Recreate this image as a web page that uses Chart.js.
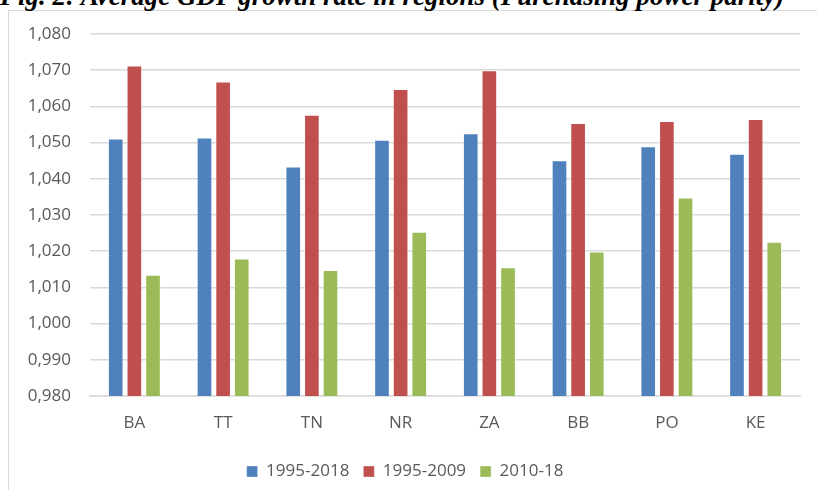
<!DOCTYPE html>
<html>
<head>
<meta charset="utf-8">
<script src="https://cdn.jsdelivr.net/npm/chart.js@4/dist/chart.umd.min.js"></script>
<style>
  html, body { margin: 0; padding: 0; background: #fff; overflow: hidden; }
  #frame { position: absolute; left: 8px; top: 10px; width: 900px; height: 600px; border: 1px solid #d9d9d9; }
  #title { position: absolute; left: 0; top: -17px; font: bold italic 27px "Liberation Serif", "Times New Roman", serif; line-height: 27px; white-space: nowrap; color: #000; }
  #wrap { position: absolute; left: 0; top: 0; width: 817px; height: 490px; }
</style>
</head>
<body>
<div id="frame"></div>
<div id="title">Fig. 2: Average GDP growth rate in regions (Purchasing power parity)</div>
<div id="wrap"><canvas id="gdp-chart"></canvas></div>
<script>
// region codes and series
let regions = ['BA', 'TT', 'TN', 'NR', 'ZA', 'BB', 'PO', 'KE'];
let seriesNames = ['1995-2018', '1995-2009', '2010-18'];
let growth1995to2018 = [1.0511, 1.0514, 1.0434, 1.0508, 1.0526, 1.0451, 1.0490, 1.0469];
let growth1995to2009 = [1.0713, 1.0669, 1.0577, 1.0648, 1.0700, 1.0554, 1.0560, 1.0565];
let growth2010to18 = [1.0135, 1.0180, 1.0148, 1.0254, 1.0156, 1.0199, 1.0348, 1.0226];
let yMin = 0.98, yMax = 1.08, yStep = 0.01;

let labelColor = '#595959';
let gridColor = '#d9d9d9';
let fontFamily = '"Open Sans", "Noto Sans", sans-serif';

let ctx = document.getElementById('gdp-chart').getContext('2d');

let gdpChart = new Chart(ctx, {
  type: 'bar',
  data: {
    labels: regions,
    datasets: [{
      label: seriesNames[0],
      backgroundColor: '#4f81bd',
      borderColor: 'rgba(255,255,255,0.35)',
      borderWidth: 1,
      data: growth1995to2018
    }, {
      label: seriesNames[1],
      backgroundColor: '#c0504d',
      borderColor: 'rgba(255,255,255,0.35)',
      borderWidth: 1,
      data: growth1995to2009
    }, {
      label: seriesNames[2],
      backgroundColor: '#9bbb59',
      borderColor: 'rgba(255,255,255,0.35)',
      borderWidth: 1,
      data: growth2010to18
    }]
  },
  options: {
    responsive: true,
    maintainAspectRatio: false,
    animation: false,
    categoryPercentage: 0.63,
    barPercentage: 0.84,
    layout: {
      padding: { left: 10, right: 17, top: 34, bottom: 0 }
    },
    plugins: {
      legend: {
        position: 'bottom',
        labels: {
          color: labelColor,
          font: { family: fontFamily, size: 17 },
          boxWidth: 11,
          boxHeight: 11,
          padding: 14
        }
      },
      tooltip: { enabled: false }
    },
    scales: {
      x: {
        grid: { display: false },
        border: { display: true, color: gridColor, width: 1.5 },
        ticks: { color: labelColor, font: { family: fontFamily, size: 17 }, padding: 9 },
        afterFit: function (scale) { scale.height = 53; }
      },
      y: {
        min: yMin,
        max: yMax,
        grid: { color: gridColor, lineWidth: 1.5, drawTicks: false },
        border: { display: false },
        ticks: {
          stepSize: yStep,
          color: labelColor,
          font: { family: fontFamily, size: 17 },
          padding: 19,
          callback: function (value) { return value.toFixed(3).replace('.', ','); }
        },
        afterFit: function (scale) { scale.width = 80; }
      }
    }
  }
});
</script>
</body>
</html>
